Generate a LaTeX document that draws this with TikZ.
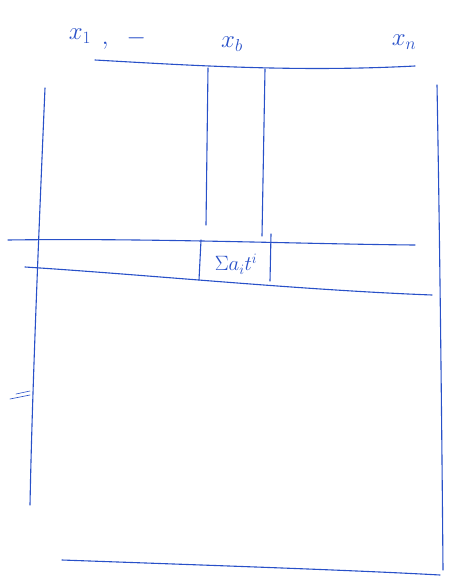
\documentclass[tikz,border=0pt]{standalone}
\usepackage{fontspec}
\setmainfont{Liberation Sans}
\begin{document}
\begin{tikzpicture}[x=1pt,y=-1pt,
  pen/.style={draw={rgb,255:red,40;green,80;blue,200}, line width=1.1pt, line cap=round},
  lbl/.style={text={rgb,255:red,40;green,80;blue,200}, font=\fontsize{24}{28}\selectfont}]
\useasboundingbox (0,0) rectangle (453,583);
% top line
\coordinate (t1) at (95,60); \coordinate (t2) at (415,66);
\draw[pen] (t1) .. controls (200,66) and (300,72) .. (t2);
% strip
\coordinate (s1a) at (208,68); \coordinate (s1b) at (206,225);
\coordinate (s2a) at (265,69); \coordinate (s2b) at (262,236);
\draw[pen] (s1a) -- (s1b);
\draw[pen] (s2a) -- (s2b);
% left and right verticals
\coordinate (l1) at (45,88); \coordinate (l2) at (30,505);
\draw[pen] (l1) .. controls (38,250) and (32,400) .. (l2);
\coordinate (r1) at (437,85); \coordinate (r2) at (443,570);
\draw[pen] (r1) .. controls (440,250) and (442,450) .. (r2);
% horizontal band
\coordinate (h1a) at (8,240); \coordinate (h1b) at (415,245);
\draw[pen] (h1a) .. controls (150,238) and (300,244) .. (h1b);
\coordinate (h2a) at (25,267); \coordinate (h2b) at (432,295);
\draw[pen] (h2a) .. controls (150,275) and (300,290) .. (h2b);
% band verticals
\coordinate (b1a) at (201,240); \coordinate (b1b) at (199,280);
\coordinate (b2a) at (271,234); \coordinate (b2b) at (270,281);
\draw[pen] (b1a) -- (b1b);
\draw[pen] (b2a) -- (b2b);
% bottom line
\coordinate (bt1) at (62,560); \coordinate (bt2) at (440,575);
\draw[pen] (bt1) .. controls (200,565) and (350,570) .. (bt2);
% small ticks at left
\coordinate (k1a) at (10,399); \coordinate (k1b) at (30,395);
\draw[pen, line width=0.6pt] (k1a) -- (k1b);
\coordinate (k2a) at (16,394); \coordinate (k2b) at (30,391);
\draw[pen, line width=0.6pt] (k2a) -- (k2b);
% labels
\node[lbl] (x1) at (80,36) {$x_1$};
\node[lbl] (dots) at (124,40) {$,\;\;-$};
\node[lbl] (xb) at (232,44) {$x_b$};
\node[lbl] (xn) at (404,42) {$x_n$};
\node[lbl, font=\fontsize{20}{24}\selectfont] (sum) at (236,264) {$\Sigma a_i t^i$};
\end{tikzpicture}
\end{document}
